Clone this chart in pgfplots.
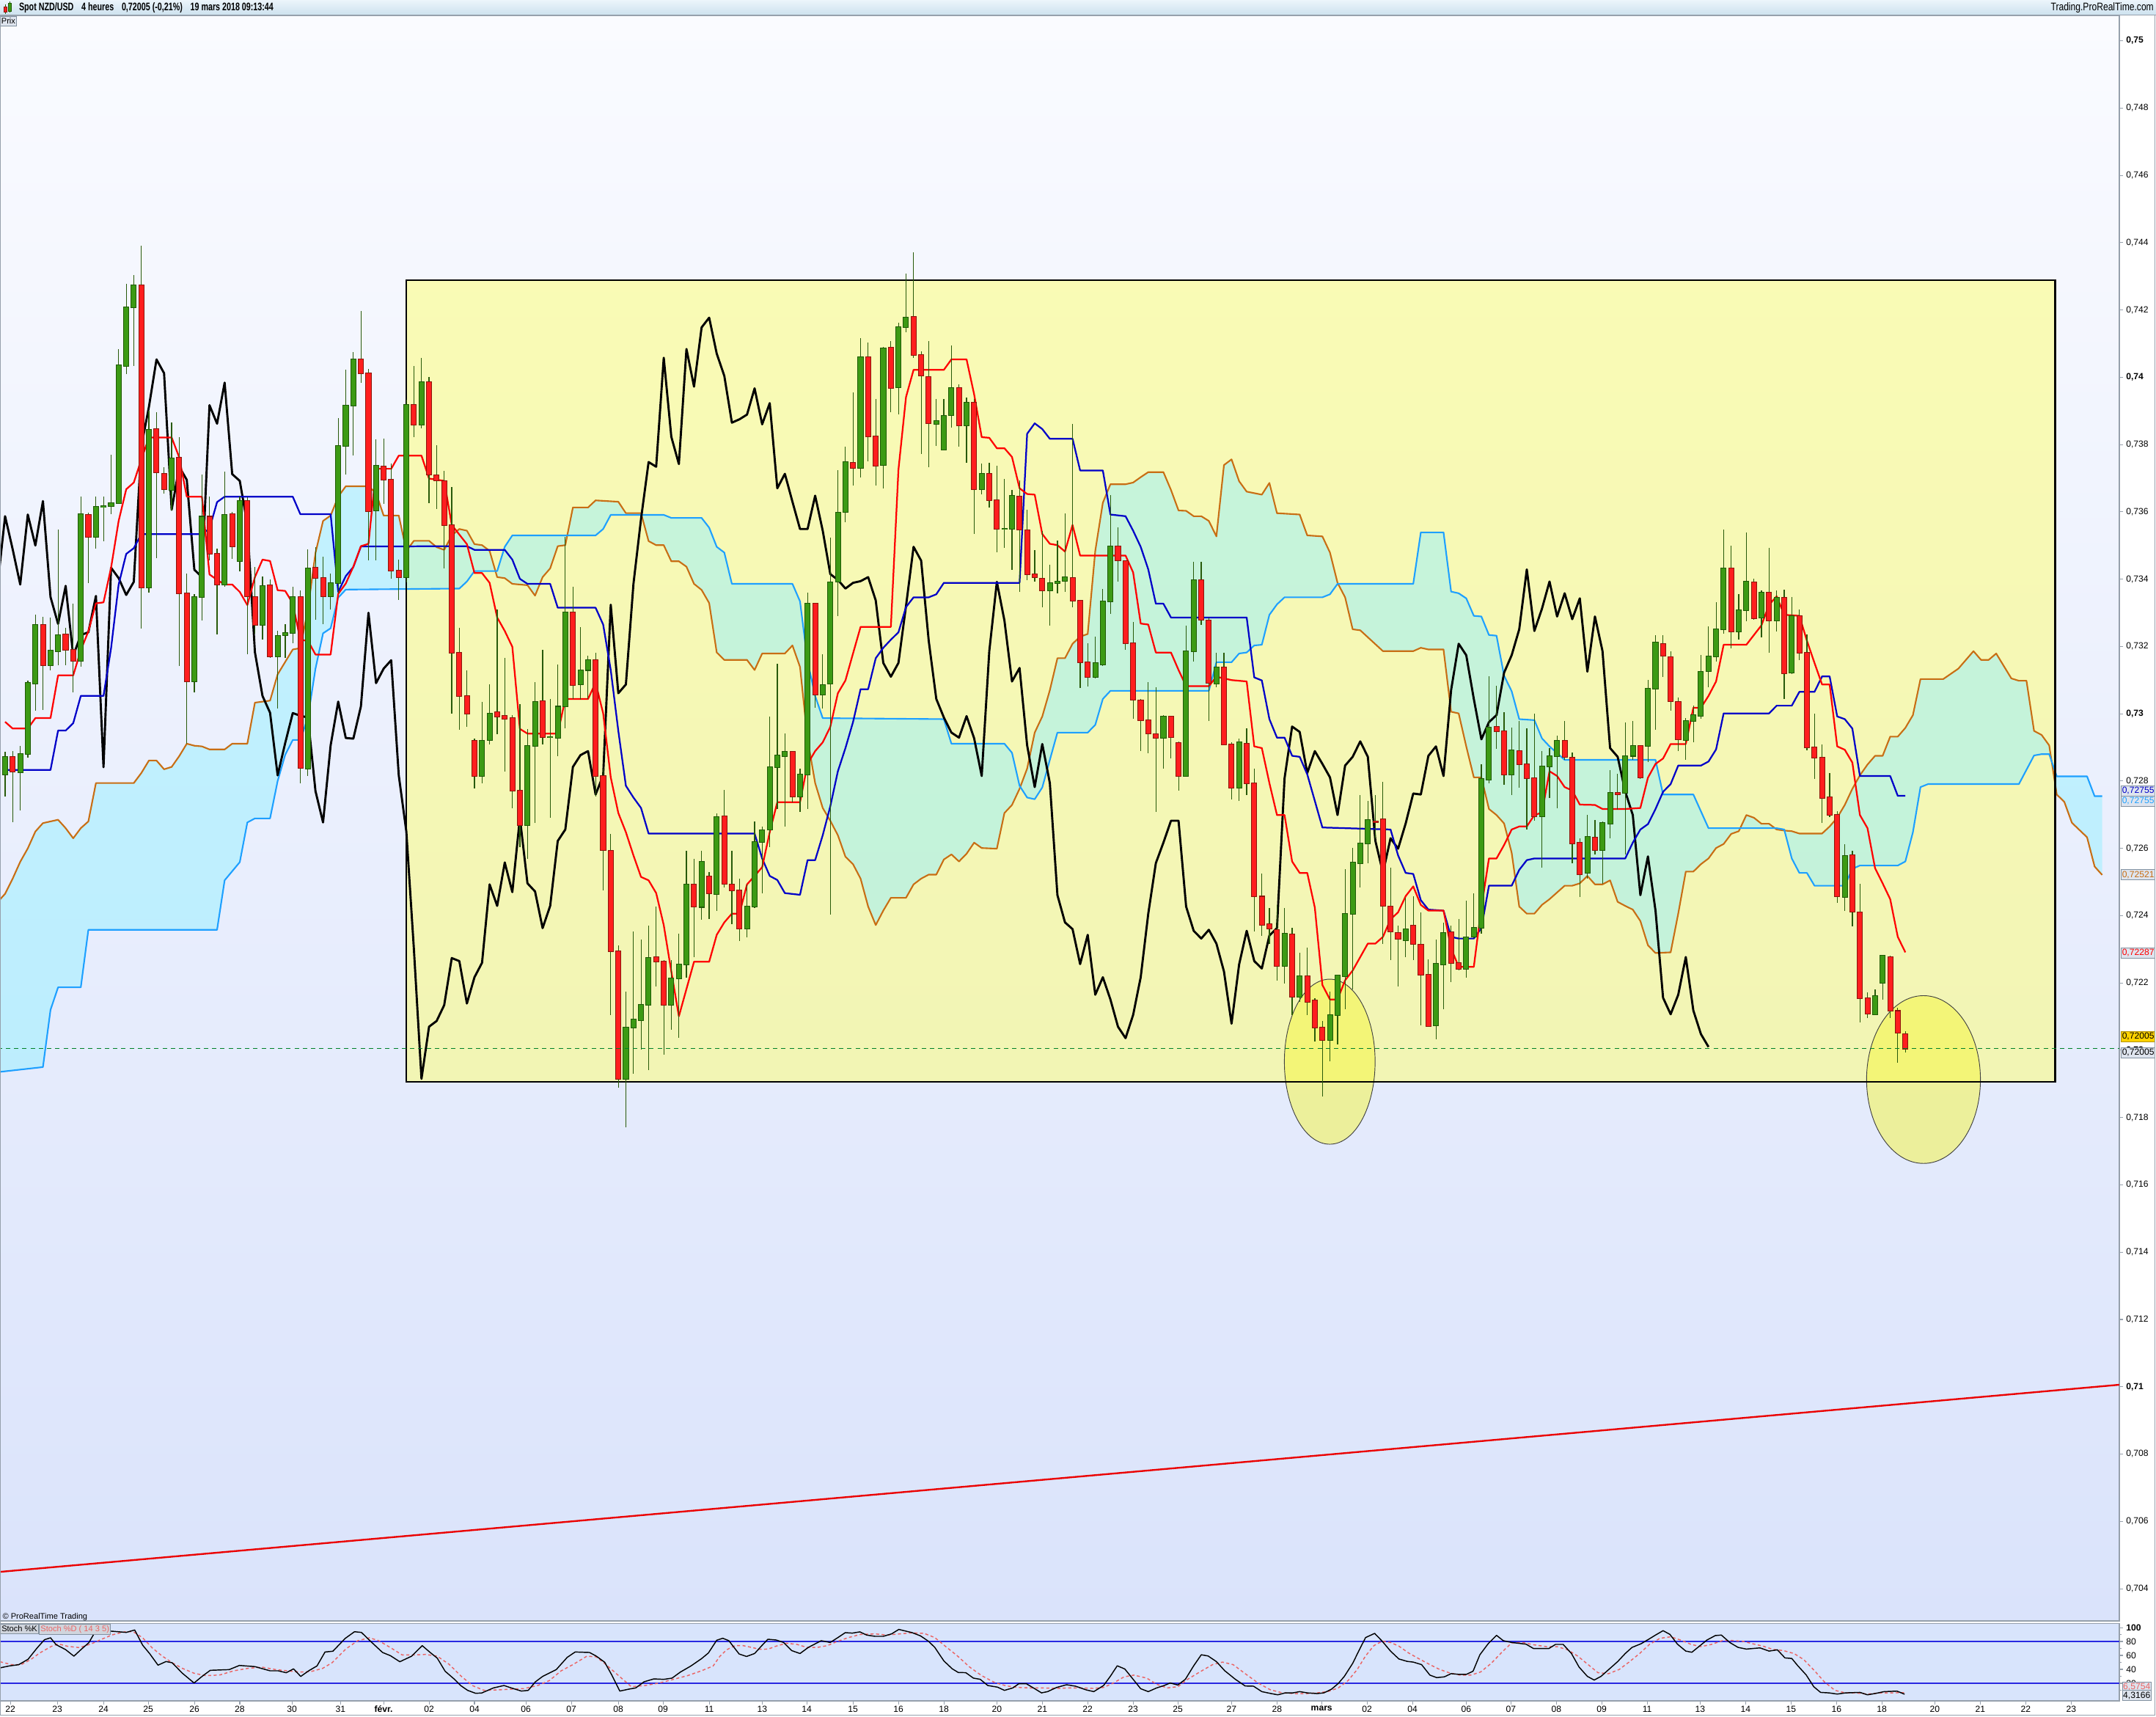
\documentclass[border=0pt]{standalone}
\usepackage{graphicx}
\usepackage{pgfplots}
\pgfplotsset{compat=1.18}
\usepackage{pgfplotstable}
\usepgfplotslibrary{fillbetween}
\usepackage{fontspec}
\setmainfont{Liberation Sans}

\definecolor{bgtop}{RGB}{250,251,255}
\definecolor{bgbot}{RGB}{218,227,251}
\definecolor{stochbg}{RGB}{216,228,252}
\definecolor{framec}{RGB}{150,160,172}
\definecolor{hdrtop}{RGB}{236,245,251}
\definecolor{hdrbot}{RGB}{204,225,238}
\definecolor{boxy}{RGB}{255,255,110}
\definecolor{circy}{RGB}{245,245,60}
\definecolor{cloud}{RGB}{150,240,255}
\definecolor{tenkan}{RGB}{255,0,0}
\definecolor{kijun}{RGB}{0,0,200}
\definecolor{spanA}{RGB}{200,110,20}
\definecolor{spanB}{RGB}{30,160,255}
\definecolor{upfill}{RGB}{60,154,20}
\definecolor{upedge}{RGB}{30,90,5}
\definecolor{dnfill}{RGB}{255,30,30}
\definecolor{dnedge}{RGB}{140,20,10}
\definecolor{wick}{RGB}{40,90,10}
\definecolor{stochD}{RGB}{235,100,100}
\definecolor{levelblue}{RGB}{40,40,225}
\definecolor{tagbg}{RGB}{222,228,238}
\definecolor{tagedge}{RGB}{130,145,160}
\definecolor{gold}{RGB}{255,210,0}
\definecolor{dashgreen}{RGB}{0,130,40}

\newcommand\lbl{\fontsize{4.6}{5}\selectfont}
\newcommand\sml{\fontsize{4.2}{4.8}\selectfont}

% rising candles: bar index, open, high, low, close
\pgfplotstableread{
i o h l c
0 0.72819 0.72889 0.72755 0.72872
2 0.72828 0.72906 0.72714 0.72881
3 0.72881 0.73098 0.72869 0.73091
4 0.73091 0.73295 0.73011 0.73265
6 0.73145 0.73287 0.73130 0.73188
7 0.73188 0.73547 0.73145 0.73235
10 0.73158 0.73647 0.73142 0.73593
12 0.73527 0.73647 0.73492 0.73616
13 0.73616 0.73645 0.73512 0.73618
14 0.73618 0.73771 0.73595 0.73627
15 0.73627 0.74083 0.73623 0.74036
16 0.74034 0.74279 0.74010 0.74208
17 0.74208 0.74304 0.74034 0.74274
19 0.73376 0.73901 0.73359 0.73845
22 0.73667 0.73864 0.73603 0.73760
25 0.73097 0.73356 0.73065 0.73348
26 0.73348 0.73710 0.73278 0.73587
29 0.73384 0.73721 0.73378 0.73592
31 0.73453 0.73645 0.73423 0.73633
34 0.73265 0.73409 0.73222 0.73381
36 0.73171 0.73247 0.73017 0.73233
37 0.73233 0.73267 0.73167 0.73240
38 0.73240 0.73378 0.73211 0.73348
40 0.72839 0.73489 0.72817 0.73434
43 0.73350 0.73417 0.73311 0.73389
44 0.73389 0.73879 0.73359 0.73797
45 0.73797 0.74023 0.73712 0.73916
46 0.73916 0.74076 0.73767 0.74054
49 0.73603 0.73817 0.73456 0.73736
53 0.73406 0.73934 0.73391 0.73919
55 0.73861 0.74058 0.73849 0.73987
63 0.72817 0.73036 0.72794 0.72922
64 0.72922 0.73087 0.72910 0.73001
69 0.72670 0.72955 0.72570 0.72905
70 0.72905 0.73094 0.72677 0.73037
72 0.72930 0.73044 0.72691 0.72931
73 0.72930 0.73148 0.72875 0.73022
74 0.73022 0.73527 0.72958 0.73301
76 0.73087 0.73260 0.73044 0.73130
77 0.73130 0.73174 0.73044 0.73160
82 0.71915 0.72174 0.71772 0.72068
83 0.72068 0.72355 0.71932 0.72091
84 0.72091 0.72329 0.72001 0.72137
85 0.72137 0.72372 0.71941 0.72275
88 0.72136 0.72269 0.72062 0.72215
89 0.72215 0.72346 0.72036 0.72255
90 0.72255 0.72593 0.72217 0.72493
92 0.72427 0.72593 0.72389 0.72561
94 0.72465 0.72703 0.72415 0.72694
98 0.72362 0.72493 0.72337 0.72427
99 0.72427 0.72682 0.72424 0.72620
100 0.72620 0.72665 0.72467 0.72655
101 0.72655 0.72993 0.72605 0.72841
102 0.72841 0.73148 0.72717 0.72875
103 0.72875 0.72941 0.72665 0.72887
105 0.72755 0.72837 0.72708 0.72820
106 0.72820 0.73360 0.72717 0.73327
108 0.73058 0.73179 0.73018 0.73087
109 0.73091 0.73524 0.72403 0.73393
110 0.73393 0.73725 0.73291 0.73599
111 0.73601 0.73794 0.73570 0.73748
113 0.73732 0.74117 0.73703 0.74060
116 0.73739 0.74092 0.73670 0.74086
118 0.73970 0.74161 0.73889 0.74148
119 0.74151 0.74308 0.74134 0.74179
123 0.73863 0.73937 0.73798 0.73872
124 0.73786 0.73937 0.73783 0.73886
125 0.73888 0.74096 0.73851 0.73968
127 0.73858 0.73941 0.73746 0.73925
129 0.73668 0.73746 0.73653 0.73713
132 0.73549 0.73699 0.73493 0.73550
133 0.73549 0.73665 0.73427 0.73648
138 0.73368 0.73444 0.73263 0.73389
139 0.73389 0.73515 0.73358 0.73394
140 0.73394 0.73596 0.73363 0.73406
144 0.73110 0.73230 0.73105 0.73151
145 0.73148 0.73372 0.73144 0.73334
146 0.73334 0.73651 0.73298 0.73498
153 0.72929 0.72996 0.72837 0.72993
156 0.72815 0.73263 0.72815 0.73187
157 0.73187 0.73453 0.73156 0.73398
160 0.73092 0.73182 0.73079 0.73139
163 0.72780 0.72927 0.72742 0.72915
169 0.72251 0.72424 0.72200 0.72346
171 0.72160 0.72291 0.72144 0.72220
175 0.72031 0.72174 0.71967 0.72105
176 0.72105 0.72225 0.72018 0.72222
177 0.72222 0.72539 0.72122 0.72406
178 0.72406 0.72603 0.72182 0.72558
179 0.72558 0.72760 0.72484 0.72617
180 0.72617 0.72742 0.72556 0.72686
185 0.72329 0.72455 0.72277 0.72360
189 0.72074 0.72329 0.72032 0.72256
190 0.72256 0.72380 0.72122 0.72351
193 0.72243 0.72446 0.72217 0.72337
194 0.72337 0.72467 0.72334 0.72363
195 0.72363 0.72851 0.72346 0.72806
196 0.72806 0.73113 0.72794 0.72961
199 0.72820 0.72961 0.72760 0.72891
203 0.72696 0.72889 0.72544 0.72844
204 0.72843 0.72898 0.72751 0.72874
205 0.72874 0.72937 0.72720 0.72920
209 0.72527 0.72699 0.72510 0.72634
211 0.72596 0.72682 0.72496 0.72675
212 0.72675 0.72832 0.72631 0.72765
214 0.72765 0.72975 0.72582 0.72874
215 0.72875 0.72979 0.72863 0.72905
217 0.72905 0.73101 0.72858 0.73075
218 0.73075 0.73234 0.72953 0.73211
222 0.72924 0.72989 0.72863 0.72979
223 0.72979 0.73024 0.72915 0.72996
224 0.72996 0.73174 0.72984 0.73127
225 0.73127 0.73260 0.73079 0.73170
226 0.73170 0.73332 0.73156 0.73251
227 0.73251 0.73549 0.73240 0.73432
229 0.73246 0.73355 0.73222 0.73308
230 0.73308 0.73539 0.73277 0.73393
232 0.73286 0.73368 0.73229 0.73360
234 0.73277 0.73367 0.73246 0.73346
236 0.73122 0.73346 0.73118 0.73291
243 0.72458 0.72613 0.72415 0.72579
247 0.72109 0.72182 0.72105 0.72162
248 0.72200 0.72280 0.72151 0.72280
}\upc

% falling candles
\pgfplotstableread{
i o h l c
1 0.72872 0.72889 0.72677 0.72828
5 0.73264 0.73289 0.73013 0.73145
8 0.73235 0.73256 0.73145 0.73189
9 0.73191 0.73328 0.73065 0.73158
11 0.73592 0.73598 0.73389 0.73527
18 0.74274 0.74390 0.73254 0.73376
20 0.73845 0.73896 0.73462 0.73717
21 0.73714 0.73734 0.73656 0.73667
23 0.73762 0.73823 0.73141 0.73359
24 0.73359 0.73417 0.72911 0.73097
27 0.73587 0.73645 0.73456 0.73476
28 0.73476 0.73492 0.73236 0.73384
30 0.73594 0.73600 0.73462 0.73498
32 0.73631 0.73645 0.73178 0.73348
33 0.73348 0.73436 0.73239 0.73265
35 0.73381 0.73400 0.73167 0.73171
39 0.73348 0.73367 0.72794 0.72839
41 0.73434 0.73495 0.73280 0.73403
42 0.73403 0.73467 0.73267 0.73350
47 0.74054 0.74198 0.73986 0.74012
48 0.74012 0.74026 0.73456 0.73603
50 0.73736 0.73817 0.73623 0.73696
51 0.73696 0.73745 0.73403 0.73426
52 0.73426 0.73458 0.73339 0.73406
54 0.73919 0.74034 0.73823 0.73861
56 0.73987 0.74001 0.73625 0.73711
57 0.73711 0.73799 0.73608 0.73694
58 0.73692 0.73722 0.73432 0.73561
59 0.73561 0.73673 0.73001 0.73182
60 0.73182 0.73256 0.72953 0.73053
61 0.73053 0.73130 0.72961 0.73001
62 0.72922 0.72927 0.72777 0.72817
65 0.73005 0.73311 0.72941 0.72993
66 0.72996 0.73165 0.72829 0.72987
67 0.72989 0.72998 0.72720 0.72772
68 0.72772 0.73030 0.72605 0.72670
71 0.73037 0.73191 0.72910 0.72930
75 0.73301 0.73377 0.73044 0.73087
78 0.73160 0.73182 0.72755 0.72817
79 0.72817 0.72837 0.72475 0.72596
80 0.72593 0.72643 0.72105 0.72294
81 0.72294 0.72312 0.71889 0.71915
86 0.72277 0.72427 0.72191 0.72265
87 0.72265 0.72269 0.71987 0.72136
91 0.72493 0.72570 0.72277 0.72427
93 0.72517 0.72530 0.72389 0.72467
95 0.72696 0.72774 0.72484 0.72496
96 0.72493 0.72593 0.72375 0.72475
97 0.72475 0.72510 0.72324 0.72362
104 0.72887 0.72889 0.72737 0.72755
107 0.73327 0.73330 0.73018 0.73058
112 0.73746 0.73955 0.73679 0.73732
114 0.74060 0.74105 0.73751 0.73825
115 0.73825 0.73936 0.73679 0.73739
117 0.74089 0.74108 0.73898 0.73970
120 0.74180 0.74372 0.74058 0.74068
121 0.74066 0.74078 0.73772 0.74006
122 0.74001 0.74108 0.73734 0.73863
126 0.73968 0.73979 0.73794 0.73858
128 0.73925 0.73936 0.73536 0.73668
130 0.73713 0.73746 0.73613 0.73636
131 0.73636 0.73738 0.73480 0.73549
134 0.73646 0.73694 0.73363 0.73549
135 0.73547 0.73608 0.73398 0.73415
136 0.73415 0.73487 0.73394 0.73405
137 0.73403 0.73544 0.73317 0.73368
141 0.73405 0.73863 0.73317 0.73336
142 0.73336 0.73338 0.73079 0.73153
143 0.73153 0.73211 0.73082 0.73110
147 0.73498 0.73553 0.73393 0.73456
148 0.73456 0.73458 0.73191 0.73211
149 0.73211 0.73272 0.72984 0.73042
150 0.73039 0.73044 0.72889 0.72982
151 0.72982 0.73096 0.72884 0.72943
152 0.72941 0.73079 0.72708 0.72929
154 0.72991 0.72993 0.72868 0.72932
155 0.72913 0.72918 0.72772 0.72815
158 0.73398 0.73453 0.73265 0.73280
159 0.73277 0.73286 0.72979 0.73092
161 0.73139 0.73182 0.72906 0.72910
162 0.72908 0.72915 0.72746 0.72780
164 0.72912 0.72958 0.72760 0.72794
165 0.72794 0.72837 0.72355 0.72458
166 0.72458 0.72527 0.72341 0.72375
167 0.72375 0.72424 0.72317 0.72362
168 0.72358 0.72432 0.72208 0.72251
170 0.72346 0.72363 0.72105 0.72160
172 0.72220 0.72306 0.72105 0.72144
173 0.72148 0.72156 0.72027 0.72067
174 0.72067 0.72087 0.71863 0.72031
181 0.72682 0.72760 0.72631 0.72679
182 0.72686 0.72800 0.72317 0.72429
183 0.72429 0.72544 0.72269 0.72355
184 0.72351 0.72372 0.72191 0.72332
186 0.72372 0.72458 0.72269 0.72317
187 0.72313 0.72410 0.72074 0.72225
188 0.72225 0.72269 0.72070 0.72074
191 0.72351 0.72372 0.72203 0.72260
192 0.72260 0.72389 0.72237 0.72243
197 0.72961 0.73084 0.72896 0.72948
198 0.72948 0.73005 0.72789 0.72820
200 0.72889 0.72979 0.72782 0.72851
201 0.72851 0.72958 0.72656 0.72810
202 0.72810 0.73001 0.72682 0.72696
206 0.72920 0.72979 0.72863 0.72872
207 0.72872 0.72886 0.72556 0.72617
208 0.72617 0.72631 0.72458 0.72524
210 0.72634 0.72686 0.72582 0.72596
213 0.72765 0.72824 0.72717 0.72760
216 0.72905 0.72906 0.72808 0.72811
219 0.73208 0.73234 0.73110 0.73174
220 0.73170 0.73186 0.73010 0.73039
221 0.73036 0.73048 0.72889 0.72924
228 0.73432 0.73501 0.73196 0.73246
231 0.73393 0.73401 0.73280 0.73286
233 0.73360 0.73493 0.73182 0.73277
235 0.73346 0.73368 0.73044 0.73122
237 0.73291 0.73311 0.73161 0.73182
238 0.73182 0.73237 0.72893 0.72901
239 0.72901 0.73001 0.72806 0.72872
240 0.72872 0.72910 0.72677 0.72751
241 0.72751 0.72824 0.72694 0.72699
242 0.72699 0.72711 0.72437 0.72458
244 0.72579 0.72593 0.72368 0.72411
245 0.72411 0.72496 0.72084 0.72155
246 0.72155 0.72174 0.72096 0.72109
249 0.72277 0.72280 0.72096 0.72118
250 0.72118 0.72127 0.71963 0.72053
251 0.72050 0.72057 0.71993 0.72005
}\dnc

% Tenkan-sen
\pgfplotstableread{
i p
0 0.72976
1 0.72956
3 0.72956
4 0.72987
6 0.72987
7 0.73114
9 0.73114
10 0.73189
11 0.73245
12 0.73328
13 0.73331
14 0.73434
15 0.73573
16 0.73667
17 0.73687
18 0.73756
19 0.73821
22 0.73821
23 0.73762
24 0.73645
26 0.73645
27 0.73414
28 0.73398
29 0.73384
30 0.73384
31 0.73362
32 0.73323
33 0.73406
34 0.73458
35 0.73454
36 0.73367
37 0.73365
38 0.73328
39 0.73219
40 0.73217
41 0.73176
43 0.73176
44 0.73356
45 0.73387
46 0.73437
47 0.73498
48 0.73505
49 0.73728
51 0.73728
52 0.73767
55 0.73767
56 0.73699
58 0.73692
59 0.73561
61 0.73504
62 0.73418
63 0.73418
64 0.73389
65 0.73286
66 0.73246
67 0.73199
68 0.72955
69 0.72941
73 0.72941
74 0.73044
77 0.73044
78 0.73092
79 0.73001
80 0.72811
81 0.72705
82 0.72648
83 0.72579
84 0.72515
85 0.72505
86 0.72467
87 0.72372
88 0.72234
89 0.72101
90 0.72182
91 0.72263
93 0.72263
94 0.72343
95 0.72380
96 0.72406
97 0.72406
98 0.72493
99 0.72518
100 0.72544
101 0.72648
102 0.72737
105 0.72737
106 0.72851
107 0.72889
108 0.72915
109 0.72961
110 0.73061
111 0.73099
112 0.73179
113 0.73258
117 0.73258
118 0.73725
119 0.73941
120 0.74022
124 0.74022
125 0.74053
127 0.74053
128 0.73949
129 0.73822
130 0.73820
131 0.73789
132 0.73789
133 0.73763
134 0.73670
135 0.73653
136 0.73651
137 0.73534
138 0.73505
139 0.73501
140 0.73482
141 0.73561
142 0.73470
148 0.73470
149 0.73420
150 0.73268
151 0.73265
152 0.73182
154 0.73182
155 0.73130
156 0.73082
159 0.73082
160 0.73110
161 0.73105
162 0.73100
164 0.73096
165 0.72903
166 0.72898
167 0.72794
168 0.72699
169 0.72699
170 0.72561
171 0.72527
172 0.72527
173 0.72424
174 0.72194
175 0.72151
176 0.72151
177 0.72208
178 0.72237
179 0.72277
180 0.72317
181 0.72317
182 0.72337
183 0.72389
184 0.72410
185 0.72458
186 0.72487
187 0.72432
188 0.72415
190 0.72415
191 0.72303
192 0.72248
194 0.72248
195 0.72424
196 0.72570
197 0.72570
198 0.72610
199 0.72656
200 0.72665
201 0.72665
202 0.72699
203 0.72706
204 0.72829
205 0.72815
206 0.72782
207 0.72772
208 0.72730
210 0.72729
211 0.72717
214 0.72717
216 0.72720
217 0.72810
218 0.72851
219 0.72867
220 0.72910
222 0.72910
223 0.73018
224 0.73018
225 0.73053
226 0.73096
227 0.73205
230 0.73205
231 0.73234
232 0.73263
233 0.73324
234 0.73349
235 0.73294
237 0.73291
238 0.73217
239 0.73151
240 0.73087
241 0.73087
242 0.72903
243 0.72893
244 0.72855
245 0.72699
246 0.72660
247 0.72541
248 0.72496
249 0.72449
250 0.72337
251 0.72291
}\tenkan

% Kijun-sen
\pgfplotstableread{
i p
0 0.72833
6 0.72833
7 0.72950
8 0.72950
9 0.72972
10 0.73053
13 0.73053
14 0.73195
15 0.73384
16 0.73475
17 0.73492
18 0.73534
26 0.73534
27 0.73550
28 0.73629
29 0.73645
38 0.73645
39 0.73593
43 0.73593
44 0.73362
45 0.73409
46 0.73436
47 0.73497
61 0.73498
62 0.73487
66 0.73487
67 0.73458
68 0.73401
69 0.73386
72 0.73386
73 0.73315
78 0.73315
79 0.73265
80 0.73130
81 0.72949
82 0.72786
83 0.72751
84 0.72720
85 0.72644
99 0.72644
100 0.72570
101 0.72518
102 0.72506
103 0.72467
105 0.72462
106 0.72565
107 0.72565
108 0.72639
109 0.72725
110 0.72829
111 0.72898
112 0.72975
113 0.73073
114 0.73073
115 0.73165
116 0.73196
117 0.73220
118 0.73242
119 0.73317
120 0.73346
122 0.73346
123 0.73355
124 0.73389
134 0.73389
135 0.73832
136 0.73863
137 0.73846
138 0.73817
141 0.73817
142 0.73723
145 0.73723
146 0.73592
148 0.73587
149 0.73544
150 0.73496
151 0.73429
152 0.73327
153 0.73327
154 0.73286
164 0.73286
165 0.73108
166 0.73099
167 0.72984
168 0.72929
169 0.72929
170 0.72875
171 0.72872
172 0.72820
174 0.72662
183 0.72656
184 0.72579
185 0.72527
186 0.72524
187 0.72446
188 0.72418
190 0.72415
191 0.72337
192 0.72332
194 0.72332
195 0.72363
196 0.72489
199 0.72489
200 0.72536
201 0.72565
202 0.72570
214 0.72570
215 0.72617
216 0.72656
217 0.72672
218 0.72717
219 0.72768
220 0.72791
221 0.72846
224 0.72846
225 0.72858
226 0.72894
227 0.73001
233 0.73001
234 0.73024
236 0.73024
237 0.73065
239 0.73065
240 0.73111
241 0.73111
242 0.72992
243 0.72984
244 0.72956
245 0.72815
249 0.72815
250 0.72756
251 0.72756
}\kijun

% Senkou span A
\pgfplotstableread{
i p
-1 0.72440
0 0.72465
1 0.72510
2 0.72560
3 0.72600
4 0.72650
5 0.72675
7 0.72685
8 0.72660
9 0.72630
10 0.72660
11 0.72680
12 0.72794
17 0.72794
18 0.72824
19 0.72861
20 0.72861
21 0.72835
22 0.72842
23 0.72874
24 0.72911
25 0.72905
26 0.72903
27 0.72894
29 0.72894
30 0.72911
32 0.72911
33 0.73033
35 0.73039
36 0.73117
38 0.73191
39 0.73195
40 0.73311
41 0.73478
42 0.73573
43 0.73589
44 0.73645
45 0.73676
48 0.73676
49 0.73656
50 0.73589
52 0.73589
53 0.73484
54 0.73514
56 0.73514
57 0.73495
58 0.73487
59 0.73530
60 0.73549
61 0.73544
62 0.73504
63 0.73501
64 0.73484
65 0.73406
66 0.73403
67 0.73386
69 0.73382
70 0.73351
71 0.73406
72 0.73432
73 0.73498
74 0.73501
75 0.73613
77 0.73613
78 0.73634
81 0.73630
82 0.73596
84 0.73596
85 0.73513
86 0.73501
87 0.73501
88 0.73453
89 0.73453
90 0.73437
91 0.73386
92 0.73368
93 0.73329
94 0.73182
95 0.73160
98 0.73160
99 0.73130
100 0.73179
103 0.73179
104 0.73203
105 0.73139
106 0.72924
107 0.72794
108 0.72720
109 0.72682
110 0.72639
111 0.72575
112 0.72553
113 0.72510
114 0.72427
115 0.72372
116 0.72415
117 0.72453
119 0.72453
120 0.72493
121 0.72510
122 0.72522
123 0.72522
124 0.72567
125 0.72582
126 0.72561
127 0.72584
128 0.72617
129 0.72601
131 0.72599
132 0.72705
133 0.72729
134 0.72777
135 0.72837
136 0.72944
137 0.72992
138 0.73070
139 0.73165
140 0.73165
141 0.73208
142 0.73229
143 0.73237
144 0.73484
145 0.73627
146 0.73682
148 0.73682
149 0.73687
150 0.73703
151 0.73718
153 0.73718
154 0.73665
155 0.73604
156 0.73603
157 0.73587
158 0.73587
159 0.73573
160 0.73527
161 0.73739
162 0.73756
163 0.73691
164 0.73660
166 0.73651
167 0.73686
168 0.73596
171 0.73592
172 0.73530
174 0.73527
175 0.73479
176 0.73389
177 0.73346
178 0.73251
179 0.73248
182 0.73186
186 0.73186
187 0.73196
188 0.73191
190 0.73191
191 0.73006
192 0.73001
193 0.72903
194 0.72811
195 0.72811
196 0.72717
197 0.72699
198 0.72674
199 0.72587
200 0.72427
201 0.72406
202 0.72406
203 0.72432
204 0.72449
206 0.72489
207 0.72489
208 0.72496
209 0.72518
210 0.72493
211 0.72493
212 0.72505
213 0.72441
214 0.72429
215 0.72418
216 0.72384
217 0.72312
218 0.72289
220 0.72291
221 0.72406
222 0.72531
223 0.72531
224 0.72553
225 0.72570
226 0.72601
227 0.72613
228 0.72643
229 0.72651
230 0.72699
231 0.72691
232 0.72673
233 0.72673
234 0.72656
235 0.72653
236 0.72651
237 0.72644
240 0.72644
241 0.72665
242 0.72691
243 0.72729
244 0.72777
245 0.72817
246 0.72849
247 0.72875
248 0.72875
249 0.72932
250 0.72932
251 0.72958
252 0.72996
253 0.73103
256 0.73103
258 0.73134
260 0.73186
261 0.73160
262 0.73160
263 0.73179
265 0.73105
266 0.73098
267 0.73098
268 0.72949
269 0.72937
270 0.72906
271 0.72760
272 0.72738
273 0.72676
275 0.72633
276 0.72546
277 0.72521
}\spanAtab

% Senkou span B
\pgfplotstableread{
i p
-1 0.71935
5 0.71950
6 0.72120
7 0.72187
10 0.72187
11 0.72358
28 0.72358
29 0.72505
31 0.72559
32 0.72677
33 0.72689
35 0.72689
36 0.72800
37 0.72878
38 0.72922
39 0.72922
40 0.72989
41 0.73134
42 0.73239
43 0.73254
44 0.73345
45 0.73369
60 0.73372
61 0.73393
62 0.73424
65 0.73424
66 0.73496
67 0.73530
78 0.73530
79 0.73549
80 0.73591
87 0.73591
88 0.73582
92 0.73582
93 0.73553
94 0.73496
95 0.73479
96 0.73386
104 0.73386
105 0.73334
106 0.73156
107 0.73053
108 0.72987
124 0.72984
125 0.72911
132 0.72911
133 0.72884
134 0.72786
135 0.72751
136 0.72746
137 0.72781
138 0.72863
139 0.72944
143 0.72944
144 0.72967
145 0.73044
146 0.73068
159 0.73068
160 0.73153
162 0.73153
163 0.73179
164 0.73182
165 0.73203
166 0.73205
167 0.73294
168 0.73325
169 0.73346
174 0.73346
175 0.73355
176 0.73386
186 0.73386
187 0.73539
190 0.73539
191 0.73363
192 0.73358
193 0.73343
194 0.73291
195 0.73289
196 0.73234
197 0.73232
198 0.73113
199 0.73067
200 0.72984
202 0.72981
203 0.72927
204 0.72903
206 0.72863
218 0.72863
219 0.72760
223 0.72760
225 0.72660
234 0.72660
235 0.72656
236 0.72570
237 0.72527
238 0.72527
239 0.72489
243 0.72489
244 0.72539
245 0.72549
250 0.72549
251 0.72561
252 0.72648
253 0.72782
254 0.72791
266 0.72791
268 0.72876
269 0.72880
270 0.72880
271 0.72814
275 0.72814
276 0.72755
277 0.72755
}\spanBtab

% Chikou span
\pgfplotstableread{
i p
-1 0.73380
0 0.73587
1 0.73489
2 0.73384
3 0.73592
4 0.73500
5 0.73632
6 0.73347
7 0.73267
8 0.73380
9 0.73172
10 0.73234
11 0.73242
12 0.73350
13 0.72841
14 0.73434
15 0.73403
16 0.73353
17 0.73392
18 0.73795
19 0.73912
20 0.74053
21 0.74012
22 0.73606
23 0.73734
24 0.73695
25 0.73428
26 0.73406
27 0.73917
28 0.73862
29 0.73984
30 0.73712
31 0.73692
32 0.73562
33 0.73183
34 0.73053
35 0.73003
36 0.72817
37 0.72913
38 0.73002
39 0.72994
40 0.72989
41 0.72770
42 0.72677
43 0.72906
44 0.73036
45 0.72928
46 0.72926
47 0.73022
48 0.73300
49 0.73091
50 0.73134
51 0.73159
52 0.72817
53 0.72650
54 0.72300
55 0.71915
56 0.72070
57 0.72087
58 0.72134
59 0.72274
60 0.72265
61 0.72139
62 0.72217
63 0.72260
64 0.72493
65 0.72429
66 0.72558
67 0.72470
68 0.72691
69 0.72496
70 0.72472
71 0.72363
72 0.72429
73 0.72622
74 0.72656
75 0.72842
76 0.72877
77 0.72889
78 0.72760
79 0.72817
80 0.73324
81 0.73061
82 0.73087
83 0.73386
84 0.73579
85 0.73748
86 0.73734
87 0.74058
88 0.73823
89 0.73742
90 0.74084
91 0.73972
92 0.74148
93 0.74177
94 0.74070
95 0.74004
96 0.73865
97 0.73875
98 0.73889
99 0.73967
100 0.73860
101 0.73923
102 0.73670
103 0.73713
104 0.73630
105 0.73549
106 0.73549
107 0.73648
108 0.73544
109 0.73415
110 0.73398
111 0.73372
112 0.73389
113 0.73394
114 0.73406
115 0.73337
116 0.73151
117 0.73110
118 0.73151
119 0.73320
120 0.73496
121 0.73455
122 0.73217
123 0.73044
124 0.72989
125 0.72944
126 0.72929
127 0.72993
128 0.72927
129 0.72815
130 0.73186
131 0.73392
132 0.73277
133 0.73096
134 0.73136
135 0.72906
136 0.72782
137 0.72910
138 0.72794
139 0.72461
140 0.72380
141 0.72360
142 0.72256
143 0.72343
144 0.72165
145 0.72217
146 0.72151
147 0.72070
148 0.72036
149 0.72105
150 0.72217
151 0.72406
152 0.72556
153 0.72617
154 0.72682
155 0.72682
156 0.72427
157 0.72355
158 0.72332
159 0.72358
160 0.72317
161 0.72234
162 0.72079
163 0.72255
164 0.72355
165 0.72265
166 0.72243
167 0.72341
168 0.72363
169 0.72808
170 0.72962
171 0.72946
172 0.72824
173 0.72889
174 0.72851
175 0.72811
176 0.72699
177 0.72846
178 0.72872
179 0.72918
180 0.72872
181 0.72622
182 0.72527
183 0.72630
184 0.72599
185 0.72674
186 0.72763
187 0.72760
188 0.72875
189 0.72903
190 0.72815
191 0.73070
192 0.73208
193 0.73174
194 0.73044
195 0.72924
196 0.72975
197 0.72996
198 0.73122
199 0.73174
200 0.73251
201 0.73429
202 0.73246
203 0.73312
204 0.73393
205 0.73289
206 0.73358
207 0.73281
208 0.73343
209 0.73125
210 0.73289
211 0.73186
212 0.72898
213 0.72872
214 0.72769
215 0.72699
216 0.72461
217 0.72576
218 0.72415
219 0.72156
220 0.72107
221 0.72165
222 0.72277
223 0.72118
224 0.72048
225 0.72010
}\chikou

% Stochastic %K
\pgfplotstableread{
x v
-0.67 42.1
0.56 44.9
1.8 46.7
3.03 54.4
4.27 71.2
5.2 82.5
6.0 85.3
6.74 75.4
7.98 68.4
9.09 58.9
10.14 69.5
11.06 78.2
12.0 95.8
14.15 94.7
16.0 93.0
17.12 96.5
18.17 74.7
19.1 62.5
20.2 46.0
21.26 51.2
22.06 49.5
23.42 34.4
24.96 20.4
26.01 29.8
27.1 38.6
29.6 39.6
30.95 45.6
33.0 43.9
35.0 37.9
36.08 37.9
37.13 35.1
38.1 40.7
39.05 29.8
40.1 37.9
41.2 44.9
42.26 64.9
43.3 66.0
44.9 84.2
46.15 94.0
47.07 93.0
48.3 80.0
49.86 64.2
50.9 59.6
52.14 50.9
53.7 58.9
55.1 74.0
56.15 64.2
57.08 56.1
58.13 37.2
59.37 25.6
60.17 16.8
61.1 9.8
62.15 5.6
62.95 6.0
64.5 13.3
65.9 16.8
67.15 12.3
68.2 8.8
69.1 9.8
70.05 22.1
71.0 29.8
72.8 39.6
74.25 57.2
75.3 64.9
77.2 64.2
78.1 58.9
79.2 50.2
80.1 32.6
81.2 8.8
82.4 11.6
83.3 13.3
84.4 22.1
85.7 26.3
87.0 25.6
88.1 27.4
89.2 36.1
90.6 44.9
92.0 55.4
92.9 63.5
94.0 81.8
94.8 84.6
95.6 81.1
96.96 62.0
97.94 58.5
99.0 62.7
99.95 74.0
100.76 83.2
101.85 82.1
102.83 78.6
103.9 66.9
105.0 62.7
106.1 71.5
107.8 81.1
109.0 78.6
110.0 85.6
110.98 92.7
111.9 92.0
112.9 93.8
113.8 89.2
114.9 87.4
116.0 87.4
117.1 90.9
118.05 97.3
119.8 92.7
120.9 88.1
121.96 80.4
122.8 71.5
124.0 52.1
125.1 40.8
125.9 35.5
126.9 35.2
127.9 27.4
128.8 25.7
129.8 16.8
131.1 14.4
132.0 9.8
133.1 13.3
133.9 19.3
134.9 19.3
136.0 12.2
136.9 6.2
137.7 8.0
138.9 14.0
140.2 17.9
141.4 15.8
142.8 10.5
143.8 8.0
145.1 16.8
146.0 30.2
146.9 45.1
147.9 40.5
149.0 25.7
150.0 12.2
151.0 8.0
152.1 13.3
153.1 16.8
153.9 20.4
154.9 17.5
155.9 25.7
157.0 45.1
158.0 60.9
158.9 59.2
160.0 51.1
161.1 38.0
162.5 25.7
163.8 16.1
164.9 15.8
166.0 8.0
167.1 5.5
168.1 3.4
169.1 6.2
170.1 6.2
171.0 8.0
172.0 6.2
173.3 5.2
174.2 6.2
175.2 11.5
176.1 19.7
176.9 29.9
178.0 48.6
178.8 66.2
179.7 85.6
180.9 91.6
181.9 80.4
183.0 66.2
184.1 54.9
185.2 51.4
186.0 50.4
187.1 46.8
188.2 31.7
189.1 28.1
190.1 29.2
191.0 33.8
192.1 32.7
193.0 32.7
193.9 37.3
194.8 60.9
195.9 76.8
197.0 88.8
197.9 81.1
199.0 78.6
200.9 76.1
201.9 69.8
203.9 69.8
204.8 75.8
205.8 75.8
206.9 62.7
207.9 43.3
209.0 29.9
209.9 24.6
210.8 29.9
211.9 40.5
213.0 51.1
214.0 62.7
214.9 71.5
216.1 76.8
217.1 83.2
218.0 89.2
219.0 95.5
219.9 90.2
220.9 76.1
222.0 66.2
222.8 64.5
223.8 73.3
224.8 82.1
225.9 88.5
226.7 89.2
227.8 78.6
228.9 71.5
230.0 69.1
231.8 70.8
233.0 66.2
234.1 68.0
235.1 56.4
236.0 55.6
236.8 45.1
237.9 32.0
238.9 15.1
239.8 6.9
240.9 6.2
242.0 4.5
243.1 6.2
245.0 6.9
246.0 3.4
247.1 5.5
248.2 8.0
249.9 8.7
250.9 4.3
}\stochK

% Stochastic %D
\pgfplotstableread{
x v
-0.67 50.9
0.87 46.7
2.11 46.7
3.34 53.7
4.58 63.5
6.12 73.0
7.05 76.5
8.28 73.0
9.83 71.2
11.37 76.5
12.61 82.5
14.15 89.5
15.88 94.0
16.93 94.0
18.17 85.3
19.4 71.2
20.64 60.0
22.06 49.5
23.42 41.4
24.96 34.4
26.5 30.9
28.36 31.9
30.2 37.9
32.07 41.4
33.92 43.2
35.77 39.6
37.32 37.9
38.86 36.1
40.4 36.8
41.95 41.4
43.19 49.5
45.04 69.5
46.58 81.1
48.13 85.3
49.36 81.1
50.9 71.2
52.45 60.7
54.0 60.7
55.54 61.4
57.08 58.9
58.63 47.4
60.17 30.9
61.71 16.8
63.26 9.8
65.11 10.5
66.96 11.6
68.5 12.3
70.36 16.8
71.9 23.9
73.45 37.9
74.99 46.7
76.85 58.9
78.08 57.9
79.32 47.4
80.86 32.6
82.71 15.1
84.57 16.8
86.42 20.4
88.27 25.6
90.13 30.9
91.98 37.9
93.53 44.9
94.4 58.5
95.3 68.0
96.4 74.0
97.5 74.0
98.6 71.5
99.7 68.7
100.8 69.1
101.85 73.3
103.2 77.5
104.6 75.8
105.9 71.5
107.3 71.5
108.6 74.0
110.0 80.4
111.4 85.6
113.0 90.2
114.9 90.9
116.5 89.2
118.2 90.9
119.8 92.4
121.4 91.6
122.8 85.6
124.1 74.0
125.8 59.2
127.4 43.3
129.0 30.9
130.7 21.1
132.3 16.1
133.9 14.0
135.6 13.3
137.2 13.3
138.8 12.6
140.4 13.3
142.1 13.3
143.7 12.6
145.1 14.0
146.4 20.4
147.8 29.2
149.1 31.7
150.8 27.4
152.1 18.6
153.5 13.3
154.9 15.1
156.2 25.7
157.8 36.2
159.5 46.8
160.8 50.4
162.2 46.8
163.8 33.8
165.5 20.4
167.1 10.8
168.7 6.2
170.3 5.2
172.0 5.2
173.3 6.2
174.7 8.0
176.1 13.3
177.4 23.9
178.6 39.8
179.7 59.2
180.8 74.0
181.9 80.4
183.0 78.6
184.1 73.3
185.4 63.4
186.8 54.9
188.2 46.8
189.5 39.8
190.9 34.5
192.2 31.7
193.6 31.7
194.9 36.2
196.3 48.6
197.7 64.5
199.0 77.9
200.4 78.6
202.0 75.1
203.6 72.6
205.0 72.6
206.4 68.0
207.7 59.2
209.1 46.8
210.4 35.2
211.8 33.8
213.2 39.8
214.5 50.4
215.9 62.7
217.2 75.8
218.6 84.6
220.0 86.7
221.3 82.1
222.7 75.8
224.0 72.6
225.4 75.8
226.8 81.1
228.1 81.4
229.5 80.4
230.8 76.8
232.2 73.3
233.5 68.7
234.9 66.9
236.3 62.7
237.6 53.8
239.0 38.0
240.3 22.1
241.7 9.8
243.1 6.2
244.4 6.2
246.0 4.5
247.7 6.2
249.3 6.2
250.9 6.6
}\stochD

\begin{document}
\begin{tikzpicture}
% title bar
\shade[top color=hdrtop, bottom color=hdrbot] (0,0) rectangle (392mm,-2.75mm);
\draw[framec, line width=0.4pt] (0,-2.75mm) -- (392mm,-2.75mm);
\draw[wick, line width=0.25pt] (0.95mm,-0.8mm) -- (0.95mm,-2.5mm);
\draw[wick, line width=0.25pt] (1.75mm,-0.3mm) -- (1.75mm,-2.3mm);
\filldraw[fill=dnfill, draw=dnedge, line width=0.2pt] (0.7mm,-1.2mm) rectangle (1.2mm,-2.2mm);
\filldraw[fill=upfill, draw=upedge, line width=0.2pt] (1.5mm,-0.6mm) rectangle (2.0mm,-2.0mm);
\node[anchor=west, inner sep=0] at (3.4mm,-1.45mm)
  {\resizebox{46.25mm}{1.45mm}{\bfseries Spot NZD/USD\quad 4 heures\quad 0,72005 (-0,21\%)\quad 19 mars 2018 09:13:44}};
\node[anchor=west, inner sep=0] at (372.8mm,-1.45mm)
  {\resizebox{18.7mm}{1.45mm}{Trading.ProRealTime.com}};

% price panel
\begin{axis}[
  at={(0mm,-2.875mm)}, anchor=north west,
  scale only axis, width=385.33mm, height=291.8mm,
  xmin=-0.672, xmax=279.26, ymin=0.70304, ymax=0.75074,
  axis background/.style={shade, top color=bgtop, bottom color=bgbot},
  axis line style={draw=framec, line width=0.5pt},
  xtick=\empty,
  ytick={0.704,0.706,0.708,0.710,0.712,0.714,0.716,0.718,0.720,0.722,0.724,0.726,0.728,0.730,0.732,0.734,0.736,0.738,0.740,0.742,0.744,0.746,0.748,0.750},
  yticklabels={{0,704},{0,706},{0,708},{\textbf{0,71}},{0,712},{0,714},{0,716},{0,718},{\textbf{0,72}},{0,722},{0,724},{0,726},{0,728},{\textbf{0,73}},{0,732},{0,734},{0,736},{0,738},{\textbf{0,74}},{0,742},{0,744},{0,746},{0,748},{\textbf{0,75}}},
  ytick pos=right, yticklabel pos=right,
  tick align=outside, major tick length=0.7mm,
  tick style={draw=framec, line width=0.4pt},
  yticklabel style={font=\lbl, inner sep=0.5pt, xshift=0.3mm},
]
% range box (filled on the same layer as the cloud, before it)
\addplot[draw=none, name path=BT, forget plot] coordinates {(53.0,0.74289) (270.8,0.74289)};
\addplot[draw=none, name path=BB, forget plot] coordinates {(53.0,0.71906) (270.8,0.71906)};
\addplot[fill=boxy, fill opacity=0.5, draw=none, forget plot] fill between[of=BT and BB];
% kumo
\addplot[draw=none, name path=SA, forget plot] table[x=i,y=p] {\spanAtab};
\addplot[draw=none, name path=SB, forget plot] table[x=i,y=p] {\spanBtab};
\addplot[fill=cloud, fill opacity=0.5, draw=none, forget plot] fill between[of=SA and SB];
\addplot[spanA, line width=0.8pt, mark=none, line join=round] table[x=i,y=p] {\spanAtab};
\addplot[spanB, line width=0.8pt, mark=none, line join=round] table[x=i,y=p] {\spanBtab};
% circles
\fill[circy, fill opacity=0.5] (axis cs:174.97,0.71966) ellipse [x radius=8.25mm, y radius=15mm];
\draw[black!75, line width=0.35pt] (axis cs:174.97,0.71966) ellipse [x radius=8.25mm, y radius=15mm];
\fill[circy, fill opacity=0.5] (axis cs:253.4,0.71913) ellipse [x radius=10.35mm, y radius=15.25mm];
\draw[black!75, line width=0.35pt] (axis cs:253.4,0.71913) ellipse [x radius=10.35mm, y radius=15.25mm];
\draw[black, line width=0.85pt] (axis cs:53.0,0.71906) rectangle (axis cs:270.8,0.74289);
% trend line
\addplot[red!92!black, line width=0.9pt, mark=none] coordinates {(-0.672,0.70450) (279.26,0.71006)};
% ichimoku lines
\addplot[black, line width=1.1pt, mark=none, line join=round] table[x=i,y=p] {\chikou};
\addplot[kijun, line width=0.85pt, mark=none, line join=round] table[x=i,y=p] {\kijun};
\addplot[tenkan, line width=0.85pt, mark=none, line join=round] table[x=i,y=p] {\tenkan};
% wicks
\addplot[draw=none, no markers, forget plot,
  error bars/.cd, y dir=both, y explicit, error mark=none,
  error bar style={draw=wick, line width=0.45pt}]
  table[x=i, y expr={(\thisrow{h}+\thisrow{l})/2}, y error expr={(\thisrow{h}-\thisrow{l})/2}] {\upc};
\addplot[draw=none, no markers, forget plot,
  error bars/.cd, y dir=both, y explicit, error mark=none,
  error bar style={draw=wick, line width=0.45pt}]
  table[x=i, y expr={(\thisrow{h}+\thisrow{l})/2}, y error expr={(\thisrow{h}-\thisrow{l})/2}] {\dnc};
% rising bodies
\addplot[draw=none, no markers, forget plot,
  error bars/.cd, y dir=both, y explicit, error mark=none,
  error bar style={draw=upedge, line width=3.06pt}]
  table[x=i, y expr={(\thisrow{o}+\thisrow{c})/2}, y error expr={abs(\thisrow{c}-\thisrow{o})/2+0.000022}] {\upc};
\addplot[draw=none, no markers, forget plot,
  error bars/.cd, y dir=both, y explicit, error mark=none,
  error bar style={draw=upfill, line width=2.3pt}]
  table[x=i, y expr={(\thisrow{o}+\thisrow{c})/2}, y error expr={abs(\thisrow{c}-\thisrow{o})/2}] {\upc};
% falling bodies
\addplot[draw=none, no markers, forget plot,
  error bars/.cd, y dir=both, y explicit, error mark=none,
  error bar style={draw=dnedge, line width=3.06pt}]
  table[x=i, y expr={(\thisrow{o}+\thisrow{c})/2}, y error expr={abs(\thisrow{c}-\thisrow{o})/2+0.000022}] {\dnc};
\addplot[draw=none, no markers, forget plot,
  error bars/.cd, y dir=both, y explicit, error mark=none,
  error bar style={draw=dnfill, line width=2.3pt}]
  table[x=i, y expr={(\thisrow{o}+\thisrow{c})/2}, y error expr={abs(\thisrow{c}-\thisrow{o})/2}] {\dnc};
% last price
\draw[dashgreen, line width=0.35pt, dash pattern=on 0.8mm off 0.7mm] (axis cs:-1,0.72005) -- (axis cs:280,0.72005);
\end{axis}

% stochastic panel
\begin{axis}[
  at={(0mm,-295.1mm)}, anchor=north west,
  scale only axis, width=385.33mm, height=14.1mm,
  xmin=-0.672, xmax=279.26, ymin=-5.3, ymax=106.05,
  axis background/.style={fill=stochbg},
  axis line style={draw=framec, line width=0.5pt},
  ytick={20,40,60,80,100}, yticklabels={20,40,60,80,\textbf{100}},
  minor ytick={10,30,50,70,90},
  ytick pos=right, yticklabel pos=right,
  xtick={0.7,6.9,13.0,18.9,25.0,31.0,37.9,44.3,50.0,56.0,62.0,68.8,74.8,81.0,86.9,93.0,100.0,105.9,112.0,118.0,124.0,131.0,137.0,143.0,149.0,154.9,162.0,168.0,173.9,179.9,185.9,193.0,198.9,204.9,210.9,216.9,223.9,229.9,235.9,241.9,247.9,254.9,260.9,266.9,272.9},
  xticklabels={22,23,24,25,26,28,30,31,\textbf{févr.},02,04,06,07,08,09,11,13,14,15,16,18,20,21,22,23,25,27,28,\textbf{mars},02,04,06,07,08,09,11,13,14,15,16,18,20,21,22,23},
  xtick pos=bottom,
  tick align=outside, major tick length=0.7mm, minor tick length=0.45mm,
  tick style={draw=framec, line width=0.4pt},
  yticklabel style={font=\lbl, inner sep=0.5pt, xshift=0.3mm},
  xticklabel style={font=\lbl, inner sep=0.4pt},
]
\draw[levelblue, line width=0.6pt] (axis cs:-1,80) -- (axis cs:280,80);
\draw[levelblue, line width=0.6pt] (axis cs:-1,20) -- (axis cs:280,20);
\addplot[stochD, line width=0.55pt, mark=none, dash pattern=on 0.55mm off 0.45mm] table[x=x,y=v] {\stochD};
\addplot[black, line width=0.55pt, mark=none, line join=round] table[x=x,y=v] {\stochK};
\end{axis}

% price tags
\tikzset{tag/.style={draw=tagedge, fill=tagbg, line width=0.3pt, inner sep=0.15mm,
  minimum width=5.5mm, minimum height=1.85mm, font=\lbl}}
\node[tag, text=kijun] at (388.75mm,-143.78mm) {0,72755};
\node[tag, text=spanB] at (388.75mm,-145.65mm) {0,72755};
\node[tag, text=spanA] at (388.75mm,-159.03mm) {0,72521};
\node[tag, text=tenkan] at (388.75mm,-173.25mm) {0,72287};
\node[tag, fill=gold, draw=gold!70!black] at (388.75mm,-188.45mm) {0,72005};
\node[tag] at (388.75mm,-191.33mm) {0,72005};
\node[tag, text=stochD, minimum width=4.8mm] at (388.5mm,-306.68mm) {6,5754};
\node[tag, minimum width=4.8mm] at (388.5mm,-308.23mm) {4,3166};

% panel captions
\node[anchor=north west, draw=tagedge, fill=tagbg, line width=0.3pt, inner sep=0.2mm, minimum height=1.7mm, font=\sml] at (0,-2.9mm) {Prix};
\node[anchor=west, inner sep=0, font=\sml] at (0.4mm,-293.9mm) {\textcopyright\ ProRealTime Trading};
\node[anchor=north west, draw=tagedge, fill=tagbg!85!gray, line width=0.3pt, inner sep=0.25mm, minimum height=1.7mm, font=\sml] (k) at (0,-295.2mm) {Stoch \%K};
\node[anchor=north west, draw=tagedge, fill=tagbg!85!gray, line width=0.3pt, inner sep=0.25mm, minimum height=1.7mm, font=\sml, text=stochD] at (k.north east) {Stoch \%D ( 14 3 5)};

% window frame
\draw[framec, line width=0.4pt] (0,-2.75mm) -- (0,-311.8mm) -- (391.8mm,-311.8mm) -- (391.8mm,-2.75mm);
\pgfresetboundingbox
\path[use as bounding box] (0,0) rectangle (392mm,-312mm);
\end{tikzpicture}
\end{document}
